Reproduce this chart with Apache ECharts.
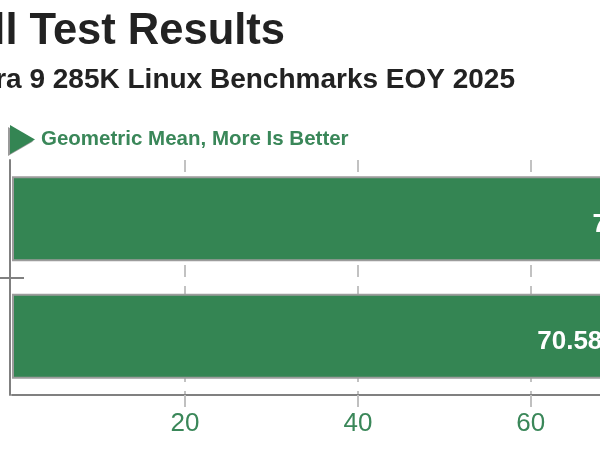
<!DOCTYPE html>
<html>
<head>
<meta charset="utf-8">
<script src="https://cdn.jsdelivr.net/npm/echarts@6/dist/echarts.min.js"></script>
<style>html,body{margin:0;padding:0;background:#fff}#c{width:600px;height:450px}</style>
</head>
<body>
<div id="c"></div>
<script>
var titleText = 'Geometric Mean Of All Test Results';
var subtitleText = 'Intel Core Ultra 9 285K Linux Benchmarks EOY 2025';
var seriesName = 'Geometric Mean, More Is Better';
var categories = ['Configuration 1', 'Configuration 2'];
var values = [76.96, 70.58];
var tickValues = [20, 40, 60];

var FONT = '"Liberation Sans", Arial, sans-serif';
var GREEN = '#348553';
var TEXTGREEN = '#3a8759';
var chart = echarts.init(document.getElementById('c'), null, {renderer: 'canvas'});
chart.setOption({
  animation: false,
  backgroundColor: '#fff',
  title: [
    {text: titleText, right: 315, top: 10, padding: 0,
     textStyle: {fontFamily: FONT, fontSize: 43.5, fontWeight: 'bold', color: '#222'}},
    {text: subtitleText, right: 85, top: 66, padding: 0,
     textStyle: {fontFamily: FONT, fontSize: 28, fontWeight: 'bold', color: '#222'}}
  ],
  legend: {
    left: 10, top: 125, padding: 0, selectedMode: false,
    data: [seriesName],
    icon: 'path://M0,0L25,14.5L0,29Z',
    itemWidth: 27, itemHeight: 29,
    itemStyle: {color: GREEN, shadowColor: '#9a9a9a', shadowOffsetX: -2, shadowOffsetY: 2, shadowBlur: 0, borderWidth: 0},
    textStyle: {fontFamily: FONT, fontSize: 20.5, fontWeight: 'bold', color: TEXTGREEN}
  },
  grid: {left: 12, top: 160, right: 0, height: 235, containLabel: false},
  xAxis: {
    type: 'value', min: 0, max: 68, interval: 20,
    axisLine: {show: true, onZero: false, lineStyle: {color: '#808080', width: 2}},
    axisTick: {show: true, length: 12, customValues: tickValues, lineStyle: {color: '#c0c0c0', width: 2}},
    axisLabel: {show: true, customValues: tickValues, margin: 16, color: TEXTGREEN, fontFamily: FONT, fontSize: 26},
    splitLine: {show: true, lineStyle: {color: '#c2c2c2', width: 2, type: [12, 9]}}
  },
  yAxis: [
    {type: 'category', data: categories, inverse: true, position: 'left', offset: 2,
     axisLine: {show: true, onZero: false, lineStyle: {color: '#808080', width: 2}},
     axisTick: {show: false}, axisLabel: {show: false}, splitLine: {show: false}},
    {type: 'category', data: [''], position: 'left', offset: 2,
     axisLine: {show: false, onZero: false},
     axisTick: {show: true, alignWithLabel: true, length: 10, lineStyle: {color: '#808080', width: 2}},
     axisLabel: {show: false}, splitLine: {show: false}},
    {type: 'category', data: [''], position: 'left', offset: 2,
     axisLine: {show: false, onZero: false},
     axisTick: {show: true, inside: true, alignWithLabel: true, length: 14, lineStyle: {color: '#808080', width: 2}},
     axisLabel: {show: false}, splitLine: {show: false}}
  ],
  series: [{
    name: seriesName,
    type: 'bar',
    yAxisIndex: 0,
    data: values,
    barWidth: 85,
    clip: false,
    itemStyle: {color: GREEN, borderColor: '#9c9c9c', borderWidth: 2},
    label: {
      show: true, position: 'insideRight', distance: 20, offset: [0, 6],
      formatter: function (p) { return p.value.toFixed(2); },
      color: '#fff', fontFamily: FONT, fontSize: 26, fontWeight: 'bold'
    }
  }]
});
</script>
</body>
</html>
